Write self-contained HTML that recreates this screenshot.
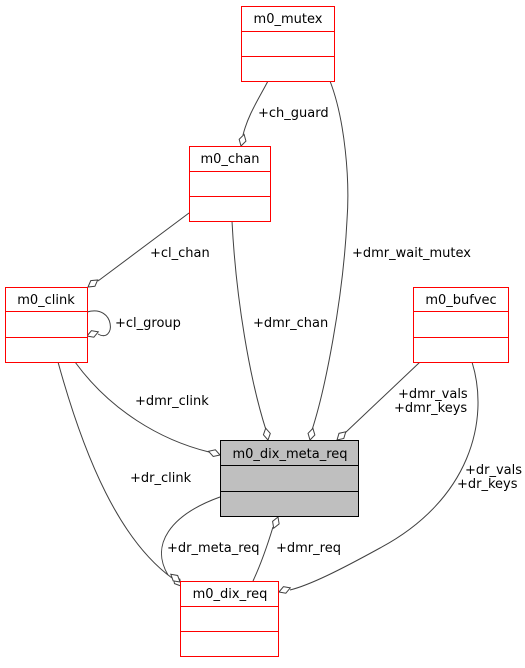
<!DOCTYPE html>
<html><head><meta charset="utf-8"><style>
html,body{margin:0;padding:0;background:#fff;}
text{font-family:"DejaVu Sans","Liberation Sans",sans-serif;font-size:13px;fill:#000;}
</style></head><body>
<svg width="525" height="663" viewBox="0 0 525 663" xmlns="http://www.w3.org/2000/svg">
<defs><path id="d" d="M0,0 L6,-3.5 L12,0 L6,3.5Z" fill="#fff" stroke="#404040" stroke-width="1"/></defs>
<g fill="none" stroke="#404040" stroke-width="1">
<path d="M268,81 C258,100 248,115 243,135"/>
<path d="M330,81 C345,120 350,180 347,220 C343,300 325,390 312,430"/>
<path d="M232,221 C236,300 250,380 266,430"/>
<path d="M189,213 L98,281"/>
<path d="M87,312 C116,304 116,344 98,334"/>
<path d="M75,362 C110,410 160,440 209,452"/>
<path d="M420,362 L345,433"/>
<path d="M58,362 C85,460 120,540 172,578"/>
<path d="M220,497 C170,515 150,545 168,575"/>
<path d="M273,527 C266,550 260,566 253,581"/>
<path d="M472,362 C490,420 470,500 380,548 C340,570 310,585 290,590"/>
</g>
<use href="#d" transform="translate(241,146) rotate(-75)"/>
<use href="#d" transform="translate(310,440) rotate(-76)"/>
<use href="#d" transform="translate(268,440) rotate(-101)"/>
<use href="#d" transform="translate(88,287) rotate(-36)"/>
<use href="#d" transform="translate(87,336) rotate(-20)"/>
<use href="#d" transform="translate(220,455) rotate(-162)"/>
<use href="#d" transform="translate(337,440) rotate(-43)"/>
<use href="#d" transform="translate(181,586) rotate(-130)"/>
<use href="#d" transform="translate(180,582) rotate(-140)"/>
<use href="#d" transform="translate(278,517) rotate(111)"/>
<use href="#d" transform="translate(279,592) rotate(-20)"/>
<g stroke="#ff0000" stroke-width="1" fill="#fff">
<rect x="241.5" y="6.5" width="93" height="75"/><path d="M241.5,31.5H334.5M241.5,56.5H334.5"/>
<rect x="189.5" y="146.5" width="81" height="75"/><path d="M189.5,171.5H270.5M189.5,196.5H270.5"/>
<rect x="5.5" y="287.5" width="82" height="75"/><path d="M5.5,311.5H87.5M5.5,337.5H87.5"/>
<rect x="413.5" y="287.5" width="95" height="75"/><path d="M413.5,311.5H508.5M413.5,337.5H508.5"/>
<rect x="180.5" y="581.5" width="98" height="75"/><path d="M180.5,606.5H278.5M180.5,631.5H278.5"/>
</g>
<g stroke="#000" stroke-width="1" fill="#bfbfbf">
<rect x="220.5" y="440.5" width="138" height="76"/><path d="M220.5,465.5H358.5M220.5,491.5H358.5"/>
</g>
<g text-anchor="middle">
<text x="288" y="23">m0_mutex</text>
<text x="230" y="163">m0_chan</text>
<text x="46" y="304">m0_clink</text>
<text x="461" y="304">m0_bufvec</text>
<text x="290" y="458">m0_dix_meta_req</text>
<text x="230" y="598">m0_dix_req</text>
</g>
<text x="258" y="117">+ch_guard</text>
<text x="352" y="257">+dmr_wait_mutex</text>
<text x="150" y="257">+cl_chan</text>
<text x="115" y="327">+cl_group</text>
<text x="253" y="327">+dmr_chan</text>
<text x="135" y="405">+dmr_clink</text>
<text x="398" y="398">+dmr_vals</text>
<text x="394" y="412">+dmr_keys</text>
<text x="130" y="482">+dr_clink</text>
<text x="465" y="474">+dr_vals</text>
<text x="457" y="488">+dr_keys</text>
<text x="167" y="552">+dr_meta_req</text>
<text x="276" y="552">+dmr_req</text>
</svg>
</body></html>
